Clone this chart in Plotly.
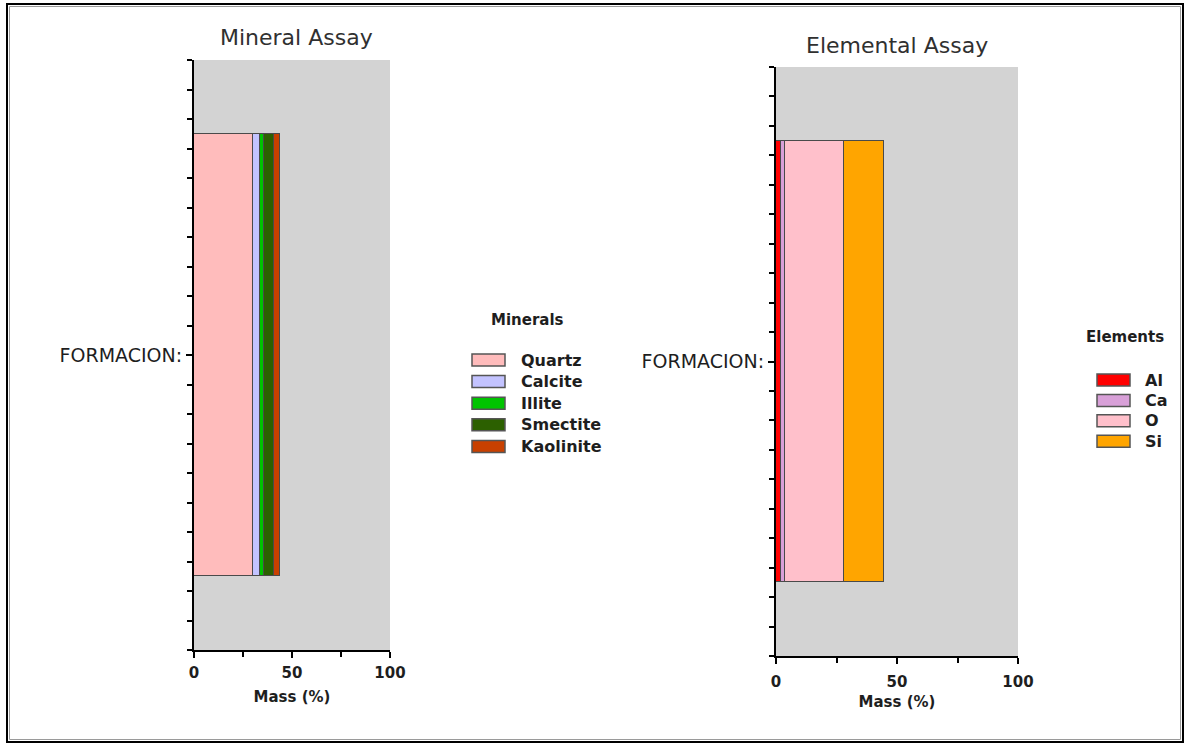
import plotly.graph_objects as go

W, H = 1189, 744

# Samples (one row per formation) and assay composition, mass %
samples = ["FORMACION:"]

minerals = ["Quartz", "Calcite", "Illite", "Smectite", "Kaolinite"]
mineral_mass = [30.0, 3.7, 2.2, 4.9, 2.9]
mineral_colors = ["#ffbcbc", "#c3c3ff", "#00c400", "#2c6000", "#c84000"]

elements = ["Al", "Ca", "O", "Si"]
element_mass = [2.0, 1.6, 24.5, 16.6]
element_colors = ["#ff0000", "#d8a0d8", "#ffc0cb", "#ffa500"]

x_ticks = [0, 50, 100]

TXT = "#1e1e1e"
FONT = "DejaVu Sans"


def px(x):
    return x / W


def py(y):
    return 1 - y / H


fig = go.Figure()

ypos = list(range(len(samples)))

for name, val, col in zip(minerals, mineral_mass, mineral_colors):
    fig.add_trace(go.Bar(
        x=[val], y=ypos, orientation="h", name=name, width=1.5,
        marker=dict(color=col, line=dict(color="#4a4a4a", width=1)),
        xaxis="x", yaxis="y", showlegend=False,
    ))

for name, val, col in zip(elements, element_mass, element_colors):
    fig.add_trace(go.Bar(
        x=[val], y=ypos, orientation="h", name=name, width=1.5,
        marker=dict(color=col, line=dict(color="#4a4a4a", width=1)),
        xaxis="x2", yaxis="y2", showlegend=False,
    ))


def xaxis(domain, anchor, label_gap, title_gap):
    return dict(
        domain=domain, anchor=anchor, range=[0, 100], automargin=False,
        tickvals=x_ticks, ticks="outside", ticklen=6, tickwidth=2, tickcolor="black",
        ticklabelstandoff=label_gap,
        minor=dict(dtick=25, tick0=0, ticks="outside", ticklen=5, tickwidth=2, tickcolor="black"),
        showline=True, linecolor="black", linewidth=2,
        showgrid=False, zeroline=False, fixedrange=True,
        tickfont=dict(family=FONT, size=15, color=TXT, weight="bold"),
        title=dict(text="Mass (%)", standoff=title_gap,
                   font=dict(family=FONT, size=15, color=TXT, weight="bold")),
    )


def yaxis(domain, anchor):
    return dict(
        domain=domain, anchor=anchor, range=[-1, 1], automargin=False,
        tickvals=ypos, ticktext=samples,
        ticks="outside", ticklen=6, tickwidth=2, tickcolor="black",
        minor=dict(dtick=0.1, tick0=-1, ticks="outside", ticklen=5, tickwidth=2, tickcolor="black"),
        showline=True, linecolor="black", linewidth=2,
        showgrid=False, zeroline=False, fixedrange=True,
        tickfont=dict(family=FONT, size=19, color=TXT),
    )


fig.update_layout(
    width=W, height=H, autosize=False,
    margin=dict(l=0, r=0, t=0, b=0, pad=0, autoexpand=False),
    paper_bgcolor="white", plot_bgcolor="#d3d3d3",
    showlegend=False,
    barmode="stack", bargap=0,
    xaxis=xaxis([px(194), px(390)], "y", 2, 10),
    yaxis=yaxis([py(650), py(60)], "x"),
    xaxis2=xaxis([px(776), px(1018)], "y2", 5, 6),
    yaxis2=yaxis([py(656), py(67)], "x2"),
)

shapes = [
    dict(type="rect", xref="paper", yref="paper",
         x0=px(7), x1=px(1183), y0=py(742), y1=py(4),
         line=dict(color="black", width=2)),
    dict(type="rect", xref="paper", yref="paper",
         x0=px(9.5), x1=px(1180.5), y0=py(739.5), y1=py(6.5),
         line=dict(color="#9a9a9a", width=1)),
]
annotations = [
    dict(text="Mineral Assay", x=px(296), y=py(38), xref="paper", yref="paper",
         showarrow=False, xanchor="center", yanchor="middle",
         font=dict(family=FONT, size=22, color="#303030")),
    dict(text="Elemental Assay", x=px(897), y=py(45), xref="paper", yref="paper",
         showarrow=False, xanchor="center", yanchor="middle",
         font=dict(family=FONT, size=22, color="#303030")),
]


def add_legend(title, names, colors, title_xy, sw_x0, y0, step, text_x):
    annotations.append(dict(
        text=title, x=px(title_xy[0]), y=py(title_xy[1]), xref="paper", yref="paper",
        showarrow=False, xanchor="center", yanchor="middle",
        font=dict(family=FONT, size=15, color=TXT, weight="bold")))
    for i, (n, c) in enumerate(zip(names, colors)):
        yc = y0 + i * step
        shapes.append(dict(type="rect", xref="paper", yref="paper",
                           x0=px(sw_x0), x1=px(sw_x0 + 33), y0=py(yc + 6), y1=py(yc - 6),
                           fillcolor=c, line=dict(color="#555555", width=1.5)))
        annotations.append(dict(
            text=n, x=px(text_x), y=py(yc), xref="paper", yref="paper",
            showarrow=False, xanchor="left", yanchor="middle",
            font=dict(family=FONT, size=16, color=TXT, weight="bold")))


add_legend("Minerals", minerals, mineral_colors, (527, 320), 472, 360, 21.6, 519)
add_legend("Elements", elements, element_colors, (1125, 337), 1097, 380, 20.4, 1143)

fig.update_layout(shapes=shapes, annotations=annotations)

fig.write_html(
    "out.html",
    config={"responsive": False},
    post_script="document.documentElement.style.overflow='hidden';"
                "document.body.style.overflow='hidden';document.body.style.margin='0';",
)
